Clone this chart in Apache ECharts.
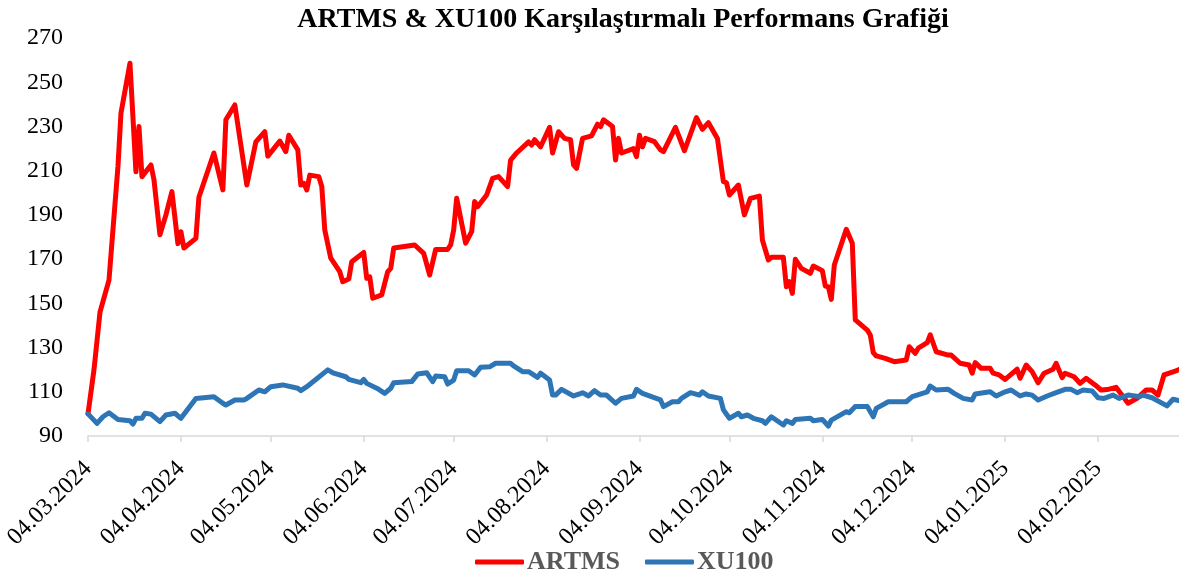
<!DOCTYPE html>
<html>
<head>
<meta charset="utf-8">
<script src="https://cdn.jsdelivr.net/npm/echarts@6/dist/echarts.min.js"></script>
<style>
  html, body { margin: 0; padding: 0; background: #fff; }
  #chart { width: 1179px; height: 578px; }
</style>
</head>
<body>
<div id="chart"></div>
<script>
const tickLabels = ['04.03.2024', '04.04.2024', '04.05.2024', '04.06.2024', '04.07.2024', '04.08.2024',
  '04.09.2024', '04.10.2024', '04.11.2024', '04.12.2024', '04.01.2025', '04.02.2025']

const artmsDates = [
  '2024-03-04', '2024-03-06', '2024-03-08', '2024-03-11', '2024-03-14', '2024-03-15', '2024-03-18', '2024-03-20', '2024-03-21', '2024-03-22',
  '2024-03-25', '2024-03-26', '2024-03-28', '2024-03-30', '2024-04-01', '2024-04-03', '2024-04-04', '2024-04-05', '2024-04-09', '2024-04-10',
  '2024-04-15', '2024-04-18', '2024-04-19', '2024-04-22', '2024-04-26', '2024-04-29', '2024-05-02', '2024-05-03', '2024-05-07', '2024-05-09',
  '2024-05-10', '2024-05-13', '2024-05-14', '2024-05-15', '2024-05-16', '2024-05-17', '2024-05-20', '2024-05-21', '2024-05-22', '2024-05-24',
  '2024-05-27', '2024-05-28', '2024-05-30', '2024-05-31', '2024-06-04', '2024-06-05', '2024-06-06', '2024-06-07', '2024-06-10', '2024-06-12',
  '2024-06-13', '2024-06-14', '2024-06-21', '2024-06-24', '2024-06-26', '2024-06-28', '2024-07-02', '2024-07-03', '2024-07-04', '2024-07-05',
  '2024-07-08', '2024-07-10', '2024-07-11', '2024-07-12', '2024-07-15', '2024-07-17', '2024-07-19', '2024-07-22', '2024-07-23', '2024-07-25',
  '2024-07-29', '2024-07-30', '2024-07-31', '2024-08-02', '2024-08-05', '2024-08-06', '2024-08-08', '2024-08-10', '2024-08-12', '2024-08-13',
  '2024-08-14', '2024-08-16', '2024-08-19', '2024-08-21', '2024-08-22', '2024-08-23', '2024-08-26', '2024-08-27', '2024-08-28', '2024-08-29',
  '2024-09-02', '2024-09-03', '2024-09-04', '2024-09-05', '2024-09-06', '2024-09-09', '2024-09-11', '2024-09-12', '2024-09-16', '2024-09-19',
  '2024-09-23', '2024-09-25', '2024-09-27', '2024-09-30', '2024-10-02', '2024-10-03', '2024-10-04', '2024-10-07', '2024-10-09', '2024-10-11',
  '2024-10-14', '2024-10-15', '2024-10-17', '2024-10-18', '2024-10-22', '2024-10-23', '2024-10-24', '2024-10-25', '2024-10-26', '2024-10-28',
  '2024-10-31', '2024-11-01', '2024-11-04', '2024-11-05', '2024-11-06', '2024-11-07', '2024-11-08', '2024-11-12', '2024-11-14', '2024-11-15',
  '2024-11-19', '2024-11-20', '2024-11-21', '2024-11-22', '2024-11-25', '2024-11-28', '2024-12-02', '2024-12-03', '2024-12-05', '2024-12-06',
  '2024-12-09', '2024-12-10', '2024-12-12', '2024-12-16', '2024-12-17', '2024-12-20', '2024-12-23', '2024-12-24', '2024-12-25', '2024-12-27',
  '2024-12-30', '2024-12-31', '2025-01-02', '2025-01-04', '2025-01-08', '2025-01-09', '2025-01-11', '2025-01-13', '2025-01-15', '2025-01-17',
  '2025-01-20', '2025-01-21', '2025-01-23', '2025-01-24', '2025-01-27', '2025-01-29', '2025-01-31', '2025-02-03', '2025-02-05', '2025-02-07',
  '2025-02-10', '2025-02-14', '2025-02-17', '2025-02-20', '2025-02-22', '2025-02-24', '2025-02-26', '2025-03-02', '2025-03-03'
]
const artmsValues = [
  100, 120, 146, 160.5, 212, 236, 258.6, 209.5, 230, 207.3,
  212.6, 206, 181, 190, 200.5, 177, 182.4, 175, 179.4, 198,
  218, 201.3, 233, 239.7, 203.5, 223, 227.6, 216.6, 223.4, 218.6,
  226, 219.4, 203.5, 204.3, 201.3, 208, 207.3, 202.8, 183.2, 170.4,
  164.3, 159.8, 161, 168.8, 173, 161.3, 162, 152.3, 153.8, 164.3,
  165.8, 175, 176.4, 172.6, 162.8, 174.4, 174.4, 176.4, 183.2, 197.5,
  177.2, 182.4, 196, 193.7, 199, 206.5, 207.3, 202.8, 214.8, 218,
  223, 221.6, 224, 220.8, 229.6, 218, 227.6, 224.6, 224, 212.6,
  211, 224.6, 225.7, 231, 229.9, 233, 230, 214.8, 224.6, 218,
  220, 216.3, 226, 220.8, 224.6, 223.1, 219.4, 218.6, 229.6, 219,
  234, 228.7, 231.7, 224.6, 205, 204.6, 199, 203.5, 190, 197.5,
  198.5, 178.6, 169.6, 170.8, 170.8, 157.5, 159.8, 154.5, 169.9, 165.8,
  163.6, 166.9, 164.8, 157.8, 157.5, 151.8, 167.3, 183.5, 177.2, 142.5,
  137.9, 135.7, 127.7, 126.2, 125.1, 123.6, 124.4, 130.4, 127.4, 129.7,
  132.2, 135.7, 128.1, 126.6, 126.6, 122.9, 122.1, 118.4, 123.2, 120.6,
  120.6, 118.4, 117.6, 115.6, 120.2, 116.1, 122.1, 119.1, 114.1, 118.4,
  120.2, 122.9, 116.4, 118.4, 116.8, 113.8, 116.1, 113.1, 110.8, 111,
  112, 104.8, 107, 110.8, 110.8, 108.5, 117.6, 119.5, 120
]

const xu100Dates = [
  '2024-03-04', '2024-03-07', '2024-03-09', '2024-03-11', '2024-03-14', '2024-03-18', '2024-03-19', '2024-03-20', '2024-03-22', '2024-03-23',
  '2024-03-25', '2024-03-28', '2024-03-30', '2024-04-02', '2024-04-04', '2024-04-09', '2024-04-15', '2024-04-18', '2024-04-19', '2024-04-22',
  '2024-04-25', '2024-04-26', '2024-04-30', '2024-05-02', '2024-05-04', '2024-05-08', '2024-05-13', '2024-05-14', '2024-05-16', '2024-05-23',
  '2024-05-25', '2024-05-29', '2024-05-30', '2024-06-03', '2024-06-04', '2024-06-05', '2024-06-09', '2024-06-11', '2024-06-13', '2024-06-14',
  '2024-06-20', '2024-06-22', '2024-06-25', '2024-06-27', '2024-06-28', '2024-07-01', '2024-07-02', '2024-07-04', '2024-07-05', '2024-07-09',
  '2024-07-11', '2024-07-13', '2024-07-16', '2024-07-18', '2024-07-23', '2024-07-24', '2024-07-27', '2024-07-29', '2024-08-01', '2024-08-02',
  '2024-08-05', '2024-08-06', '2024-08-07', '2024-08-09', '2024-08-13', '2024-08-15', '2024-08-16', '2024-08-18', '2024-08-20', '2024-08-22',
  '2024-08-24', '2024-08-27', '2024-08-29', '2024-09-02', '2024-09-03', '2024-09-05', '2024-09-08', '2024-09-11', '2024-09-12', '2024-09-15',
  '2024-09-17', '2024-09-18', '2024-09-21', '2024-09-24', '2024-09-25', '2024-09-27', '2024-10-01', '2024-10-02', '2024-10-04', '2024-10-07',
  '2024-10-08', '2024-10-10', '2024-10-12', '2024-10-15', '2024-10-16', '2024-10-18', '2024-10-22', '2024-10-23', '2024-10-25', '2024-10-26',
  '2024-10-31', '2024-11-01', '2024-11-04', '2024-11-06', '2024-11-07', '2024-11-12', '2024-11-13', '2024-11-15', '2024-11-19', '2024-11-21',
  '2024-11-22', '2024-11-26', '2024-12-02', '2024-12-04', '2024-12-09', '2024-12-10', '2024-12-12', '2024-12-16', '2024-12-18', '2024-12-21',
  '2024-12-24', '2024-12-25', '2024-12-30', '2025-01-01', '2025-01-04', '2025-01-06', '2025-01-09', '2025-01-11', '2025-01-13', '2025-01-15',
  '2025-01-18', '2025-01-21', '2025-01-24', '2025-01-26', '2025-01-28', '2025-01-30', '2025-02-02', '2025-02-04', '2025-02-06', '2025-02-09',
  '2025-02-11', '2025-02-14', '2025-02-18', '2025-02-19', '2025-02-22', '2025-02-27', '2025-03-01', '2025-03-03'
]
const xu100Values = [
  100, 95.7, 98.7, 100.5, 97.5, 96.9, 95.4, 98, 98, 100.3,
  99.9, 96.5, 99.5, 100.3, 98, 107, 107.8, 104.8, 104, 106.3,
  106.3, 107, 110.8, 110, 112.3, 113.1, 111.6, 110.5, 112.3, 119.9,
  118.4, 116.8, 115.6, 114.1, 115.6, 113.8, 111.1, 109.3, 111.6, 114.1,
  114.6, 118, 118.6, 114.6, 117.1, 116.8, 113.5, 115.3, 119.5, 119.5,
  117.6, 121.1, 121.3, 122.9, 122.9, 121.7, 119.1, 119.1, 116.5, 118.4,
  115.3, 108.5, 108.5, 111.1, 108.1, 109, 109.6, 108.1, 110.5, 108.5,
  108.5, 104.8, 107, 108.1, 111.1, 109.3, 107.8, 106.3, 103.3, 105.5,
  105.5, 107, 109.6, 108.5, 110, 108.1, 107, 101.8, 98, 100.3,
  98.7, 99.5, 98, 96.9, 95.7, 98.7, 95, 96.9, 95.7, 97.5,
  98, 96.9, 97.5, 94.5, 97.2, 101, 100.5, 103.3, 103.3, 98.7,
  102.5, 105.5, 105.5, 107.8, 110, 112.6, 110.8, 111.1, 109.3, 107,
  106.3, 109, 110, 108.1, 110, 110.8, 108.1, 109, 108.5, 106.3,
  108.1, 109.6, 111.1, 111.1, 109.6, 110.8, 110.4, 107.3, 107, 108.5,
  107, 108.5, 107.8, 108.5, 107.3, 103.6, 106.6, 106
]

// dates -> ms, used as plain numbers on a value axis
function isoTs(s) {
  const p = s.split('-').map(Number)
  return Date.UTC(p[0], p[1] - 1, p[2])
}
function trTs(s) {
  const p = s.split('.').map(Number)
  return Date.UTC(p[2], p[1] - 1, p[0])
}
function pad(n) { return (n < 10 ? '0' : '') + n }

const tickValues = tickLabels.map(trTs)
const serif = '"Liberation Serif", "Times New Roman", serif'

const chart = echarts.init(document.getElementById('chart'))
chart.setOption({
  animation: false,
  backgroundColor: '#fff',
  title: {
    text: 'ARTMS & XU100 Karşılaştırmalı Performans Grafiği',
    left: 618,
    top: 1,
    textAlign: 'center',
    textStyle: { fontFamily: serif, fontSize: 28, fontWeight: 'bold', color: '#000' }
  },
  legend: {
    left: 475,
    top: 549,
    padding: 0,
    icon: 'roundRect',
    itemWidth: 49,
    itemHeight: 5,
    itemGap: 25,
    textStyle: { fontFamily: serif, fontSize: 26, fontWeight: 'bold', color: '#595959', padding: [0, 0, 0, -2] },
    data: ['ARTMS', 'XU100']
  },
  grid: { left: 88, right: 0, top: 38, bottom: 142, containLabel: false },
  xAxis: {
    type: 'value',
    min: trTs('04.03.2024'),
    max: isoTs('2025-03-03'),
    splitLine: { show: false },
    axisLine: { lineStyle: { color: '#D9D9D9', width: 1.5 } },
    axisTick: { show: true, customValues: tickValues, length: 6, lineStyle: { color: '#D9D9D9', width: 1.5 } },
    axisLabel: {
      customValues: tickValues,
      rotate: 45,
      margin: 29,
      fontFamily: serif,
      fontSize: 24,
      color: '#000',
      formatter: function (v) {
        const d = new Date(v)
        return pad(d.getUTCDate()) + '.' + pad(d.getUTCMonth() + 1) + '.' + d.getUTCFullYear()
      }
    }
  },
  yAxis: {
    type: 'value',
    min: 90,
    max: 270,
    interval: 20,
    axisLine: { show: false },
    axisTick: { show: false },
    splitLine: { show: false },
    axisLabel: { margin: 25, fontFamily: serif, fontSize: 24, color: '#000' }
  },
  series: [
    {
      name: 'ARTMS',
      type: 'line',
      symbol: 'none',
      color: '#FF0000',
      lineStyle: { width: 5, color: '#FF0000', join: 'round', cap: 'round' },
      data: artmsDates.map(function (d, i) { return [isoTs(d), artmsValues[i]] })
    },
    {
      name: 'XU100',
      type: 'line',
      symbol: 'none',
      color: '#2E75B6',
      lineStyle: { width: 5, color: '#2E75B6', join: 'round', cap: 'round' },
      data: xu100Dates.map(function (d, i) { return [isoTs(d), xu100Values[i]] })
    }
  ]
})
</script>
</body>
</html>
